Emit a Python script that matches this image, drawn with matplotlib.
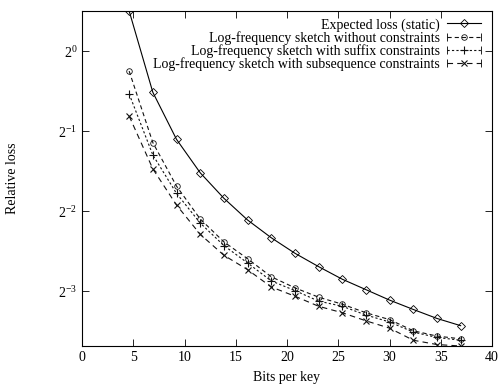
import numpy as np
import matplotlib
matplotlib.use("Agg")
from matplotlib import pyplot as plt
from matplotlib import ticker
from matplotlib.lines import Line2D
from matplotlib.legend_handler import HandlerLine2D, HandlerTuple

plt.rcParams['font.family'] = ['Liberation Serif', 'DejaVu Serif']
plt.rcParams['mathtext.fontset'] = 'custom'
plt.rcParams['mathtext.rm'] = 'Liberation Serif'
plt.rcParams['mathtext.it'] = 'Liberation Serif:italic'
plt.rcParams['lines.scale_dashes'] = False

# bits per key (same for every series)
bits = [4.6, 6.91, 9.22, 11.53, 13.84, 16.15, 18.46, 20.77,
        23.08, 25.39, 27.7, 30.01, 32.32, 34.63, 36.94]

expected = [1.414, 0.700, 0.466, 0.349, 0.280, 0.232, 0.199, 0.174,
            0.155, 0.139, 0.127, 0.116, 0.107, 0.099, 0.093]
no_constr = [0.841, 0.453, 0.311, 0.234, 0.192, 0.166, 0.142, 0.129,
             0.119, 0.112, 0.104, 0.098, 0.089, 0.085, 0.083]
suffix = [0.690, 0.407, 0.292, 0.226, 0.186, 0.160, 0.137, 0.126,
          0.115, 0.110, 0.102, 0.096, 0.088, 0.084, 0.082]
subseq = [0.570, 0.361, 0.264, 0.205, 0.171, 0.151, 0.130, 0.120,
          0.110, 0.104, 0.097, 0.091, 0.082, 0.079, 0.078]

labels = ['Expected loss (static)',
          'Log-frequency sketch without constraints',
          'Log-frequency sketch with suffix constraints',
          'Log-frequency sketch with subsequence constraints']

fig = plt.figure(figsize=(5.04, 3.86), dpi=100)
ax = fig.add_axes([0.1627, 0.1036, 0.8135, 0.8679])

lw = 0.8
l0, = ax.plot(bits, expected, '-', color='k', lw=lw, marker='D', ms=3.6,
              mfc='none', mew=0.6)
l1, = ax.plot(bits, no_constr, color='#111111', lw=lw, ls=(0, (3, 2.2)),
              marker='o', ms=4, mfc='none', mew=0.6)
l2, = ax.plot(bits, suffix, color='#111111', lw=lw, ls=(0, (1.6, 1.6)),
              marker='+', ms=6, mew=0.8)
l3, = ax.plot(bits, subseq, color='#111111', lw=lw, ls=(0, (4, 3)),
              marker='x', ms=4, mew=0.8)

ax.set_yscale('log', base=2)
ax.set_xlim(0, 40)
ax.set_ylim(0.078, 1.414)
ax.set_xticks(np.arange(0, 41, 5))
ax.yaxis.set_major_locator(ticker.FixedLocator([2**-3, 2**-2, 2**-1, 2**0]))
ax.yaxis.set_major_formatter(ticker.LogFormatterMathtext(base=2))
ax.yaxis.set_minor_locator(ticker.NullLocator())

ax.tick_params(which='both', direction='in', length=5, width=0.6,
               top=True, right=True, labelsize=10, pad=3.5, colors='k')
for s in ax.spines.values():
    s.set_linewidth(0.8)

ax.set_xlabel('Bits per key', fontsize=10, labelpad=5)
ax.set_ylabel('Relative loss', fontsize=10, labelpad=28)

# legend entries with gnuplot-style end caps
def caps():
    return Line2D([], [], ls='none', marker='|', color='k', ms=6, mew=0.6)

c1, c2, c3 = caps(), caps(), caps()
hmap = {tuple: HandlerTuple(ndivide=1, pad=0),
        c1: HandlerLine2D(numpoints=2, marker_pad=0),
        c2: HandlerLine2D(numpoints=2, marker_pad=0),
        c3: HandlerLine2D(numpoints=2, marker_pad=0)}
leg = ax.legend([l0, (l1, c1), (l2, c2), (l3, c3)], labels,
                handler_map=hmap, loc='upper right',
                bbox_to_anchor=(0.973, 0.979), frameon=False,
                markerfirst=False, numpoints=1, fontsize=10,
                handlelength=2.45, handletextpad=0.5, labelspacing=-0.05,
                borderpad=0, borderaxespad=0)

fig.savefig('out.png', dpi=100)
